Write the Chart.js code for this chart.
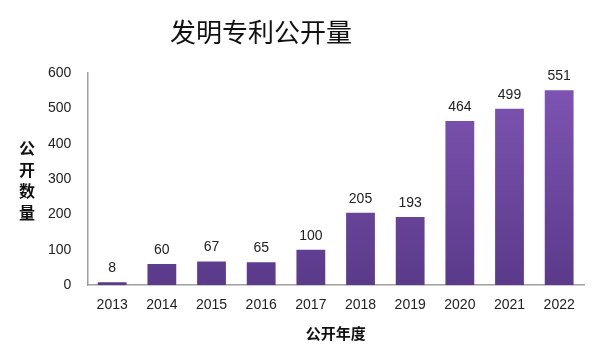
<!DOCTYPE html>
<html lang="zh">
<head>
<meta charset="UTF-8">
<title>发明专利公开量</title>
<script src="https://cdn.jsdelivr.net/npm/chart.js"></script>
<style>
    html, body { margin: 0; padding: 0; background: #fff; }
    .wrap { width: 600px; height: 359px; }
</style>
</head>
<body>
<div class="wrap"><canvas id="patentChart"></canvas></div>
<script>
const years = ['2013', '2014', '2015', '2016', '2017', '2018', '2019', '2020', '2021', '2022'];
const counts = [8, 60, 67, 65, 100, 205, 193, 464, 499, 551];
const chartTitle = '发明专利公开量';
const yTitleChars = ['公', '开', '数', '量'];

const cjk = '"Noto Sans CJK SC", "Liberation Sans", sans-serif';

// title, number above each bar, stacked y-axis title
const labelPlugin = {
    id: 'labels',
    afterDatasetsDraw(chart) {
        const ctx = chart.ctx;
        const meta = chart.getDatasetMeta(0);
        ctx.save();
        ctx.fillStyle = '#222';
        ctx.font = '14px "Liberation Sans", Arial, sans-serif';
        ctx.textAlign = 'center';
        ctx.textBaseline = 'bottom';
        meta.data.forEach((bar, i) => {
            ctx.fillText(counts[i], bar.x, bar.y - 7);
        });

        ctx.textBaseline = 'middle';
        ctx.fillStyle = '#111';
        ctx.font = '26px ' + cjk;
        ctx.fillText(chartTitle, 261, 32);

        ctx.font = 'bold 16px ' + cjk;
        yTitleChars.forEach((c, i) => {
            ctx.fillText(c, 27, 148 + i * 21.5);
        });
        ctx.restore();
    }
};

const ctx = document.getElementById('patentChart').getContext('2d');
new Chart(ctx, {
    type: 'bar',
    data: {
        labels: years,
        datasets: [{
            data: counts,
            backgroundColor: (c) => {
                const area = c.chart.chartArea;
                if (!area) return '#6d47a0';
                const g = c.chart.ctx.createLinearGradient(0, area.top, 0, area.bottom);
                g.addColorStop(0, '#8056b5');
                g.addColorStop(1, '#5b3a8a');
                return g;
            },
            borderWidth: 0,
            barPercentage: 0.58,
            categoryPercentage: 1.0
        }]
    },
    options: {
        responsive: true,
        maintainAspectRatio: false,
        animation: false,
        layout: { padding: { left: 32, right: 16, top: 73, bottom: 13 } },
        plugins: {
            legend: { display: false },
            tooltip: { enabled: false },
            title: { display: false }
        },
        scales: {
            x: {
                grid: { display: false, drawTicks: false },
                border: { color: '#a0a0a0', width: 1.5 },
                ticks: {
                    color: '#222',
                    padding: 12,
                    font: { family: '"Liberation Sans", Arial, sans-serif', size: 14 }
                },
                title: {
                    display: true,
                    text: '公开年度',
                    color: '#111',
                    font: { family: cjk, size: 15, weight: 'bold' },
                    padding: { top: -2, bottom: 4 }
                }
            },
            y: {
                min: 0,
                max: 600,
                grid: { display: false, drawTicks: false },
                border: { color: '#a0a0a0', width: 1.5 },
                ticks: {
                    stepSize: 100,
                    color: '#222',
                    padding: 16,
                    font: { family: '"Liberation Sans", Arial, sans-serif', size: 14 }
                }
            }
        }
    },
    plugins: [labelPlugin]
});
</script>
</body>
</html>
